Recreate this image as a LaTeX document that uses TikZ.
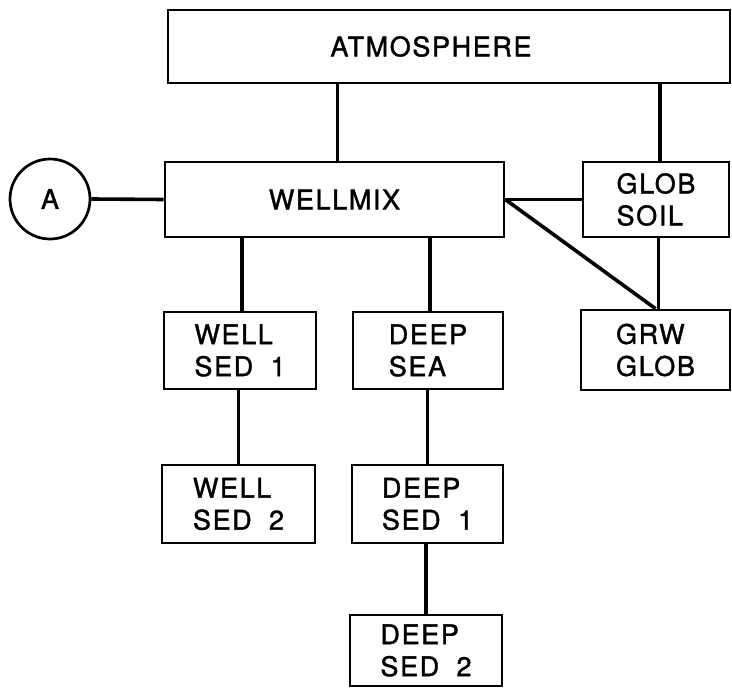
\documentclass[tikz,border=0pt]{standalone}
\usepackage{fontspec}
\setmainfont{TeX Gyre Heros}[LetterSpace=6,FakeBold=1.4,WordSpace=1.9]
\usepackage{tikz}
\usetikzlibrary{calc,positioning}
\tikzset{
  box/.style={draw,line width=2.7pt,align=left,inner sep=0pt,font=\fontsize{27}{32}\selectfont},
  ln/.style={line width=3.6pt}
}
\begin{document}
\begin{tikzpicture}[x=1pt,y=-1pt]
\useasboundingbox (0,0) rectangle (732,688);
\node[box,minimum width=562pt,minimum height=73pt,label={[xshift=-18pt,font=\fontsize{27}{32}\selectfont]center:ATMOSPHERE}] (atm) at (449,46.5) {};
\node[box,minimum width=339pt,minimum height=75pt] (wellmix) at (334.5,199.5) {WELLMIX};
\node[box,circle,minimum size=80pt] (a) at (50,199) {A};
\node[box,minimum width=146pt,minimum height=75pt] (globsoil) at (656,199.5) {GLOB\\SOIL};
\node[box,minimum width=149pt,minimum height=80pt] (grwglob) at (655.5,350) {GRW\\GLOB};
\node[box,minimum width=152pt,minimum height=77pt] (wsed1) at (240,350.5) {WELL\\SED 1};
\node[box,minimum width=150pt,minimum height=77pt] (deepsea) at (428,350.5) {DEEP\\SEA};
\node[box,minimum width=153pt,minimum height=78pt] (wsed2) at (238.5,504) {WELL\\SED 2};
\node[box,minimum width=151pt,minimum height=78pt] (dsed1) at (427.5,504) {DEEP\\SED 1};
\node[box,minimum width=152pt,minimum height=71pt] (dsed2) at (426,650.5) {DEEP\\SED 2};
% links
\draw[ln] ([xshift=3pt]wellmix.north) -- ([xshift=3pt]wellmix.north |- atm.south);
\draw[ln] ([xshift=4pt]globsoil.north) -- ([xshift=4pt]globsoil.north |- atm.south);
\draw[ln] (a.east) -- (wellmix.west);
\draw[ln] (wellmix.east) -- (globsoil.west);
\draw[ln] (wellmix.east) -- (grwglob.north);
\draw[ln] ([xshift=3pt]grwglob.north) -- ([xshift=3pt]grwglob.north |- globsoil.south);
\draw[ln] ([xshift=2pt]wsed1.north) -- ([xshift=2pt]wsed1.north |- wellmix.south);
\draw[ln] ([xshift=2pt]deepsea.north) -- ([xshift=2pt]deepsea.north |- wellmix.south);
\draw[ln] (wsed2.north) -- (wsed2.north |- wsed1.south);
\draw[ln] (dsed1.north) -- (dsed1.north |- deepsea.south);
\draw[ln] (dsed2.north) -- (dsed2.north |- dsed1.south);
\end{tikzpicture}
\end{document}
